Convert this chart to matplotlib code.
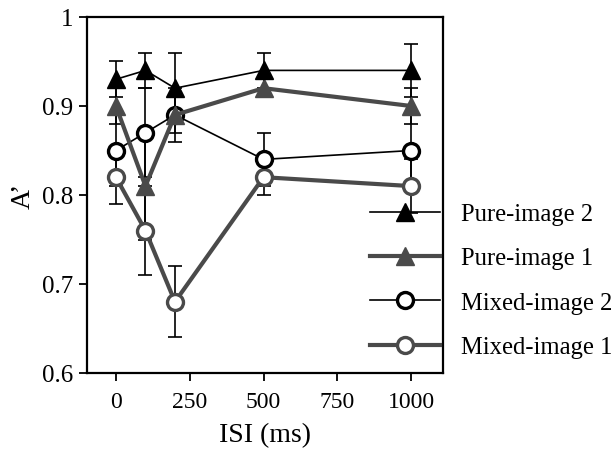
import matplotlib
matplotlib.use("Agg")
import matplotlib.pyplot as plt
from matplotlib.lines import Line2D

plt.rcParams['font.family'] = ['Liberation Serif', 'DejaVu Serif']

isi = [0, 100, 200, 500, 1000]

pure2 = [0.93, 0.94, 0.92, 0.94, 0.94]
pure2_err = [0.02, 0.02, 0.04, 0.02, 0.03]
pure1 = [0.90, 0.81, 0.89, 0.92, 0.90]
pure1_err = [0.02, 0.06, 0.02, 0.01, 0.02]
mixed2 = [0.85, 0.87, 0.89, 0.84, 0.85]
mixed2_err = [0.04, 0.05, 0.03, 0.03, 0.04]
mixed1 = [0.82, 0.76, 0.68, 0.82, 0.81]
mixed1_err = [0.03, 0.05, 0.04, 0.02, 0.03]

labels = ["Pure-image 2", "Pure-image 1", "Mixed-image 2", "Mixed-image 1"]
xticks = [0, 250, 500, 750, 1000]
yticks = [0.6, 0.7, 0.8, 0.9, 1.0]
ytick_labels = ["0.6", "0.7", "0.8", "0.9", "1"]

gray = "#4a4a4a"
fig = plt.figure(figsize=(6.13, 4.52), dpi=100)
ax = fig.add_axes([87/613, 1-374/452, (443-87)/613, (374-18)/452])

thin = 1.2
thick = 3.0
series = [
    (pure2, pure2_err, dict(color='black', lw=thin, marker='^', ms=13, mfc='black', mec='black', mew=1)),
    (pure1, pure1_err, dict(color=gray, lw=thick, marker='^', ms=13, mfc=gray, mec=gray, mew=1)),
    (mixed2, mixed2_err, dict(color='black', lw=thin, marker='o', ms=11.5, mfc='white', mec='black', mew=2.4)),
    (mixed1, mixed1_err, dict(color=gray, lw=thick, marker='o', ms=11.5, mfc='white', mec=gray, mew=2.4)),
]

handles = []
for i, (vals, err, st) in enumerate(series):
    ax.errorbar(isi, vals, yerr=err, fmt='none', ecolor='black', elinewidth=1.2,
                capsize=5, capthick=1.2, zorder=2)
for i, (vals, err, st) in enumerate(series[::-1]):
    ax.plot(isi, vals, zorder=3 + i, **st)
for vals, err, st in series:
    handles.append(Line2D([], [], **st))

ax.set_xlim(-98, 1108)
ax.set_ylim(0.6, 1.0)
ax.set_xticks(xticks)
ax.set_yticks(yticks)
ax.set_yticklabels(ytick_labels)
ax.tick_params(direction='out', length=6, width=1.3)
ax.tick_params(axis='x', labelsize=17, pad=7)
ax.tick_params(axis='y', labelsize=18, pad=4)
for s in ax.spines.values():
    s.set_linewidth(1.6)
ax.set_xlabel("ISI (ms)", fontsize=20, labelpad=7)
ax.set_ylabel("A\u2019", fontsize=20)
ax.yaxis.set_label_coords(-0.145, 0.5)

fig.legend(handles, labels, loc='center left', bbox_to_anchor=(370/613, 1-(217+346)/2/452),
           frameon=False, fontsize=17.7, handlelength=2.85, handletextpad=0.85,
           borderpad=0, borderaxespad=0, labelspacing=0.9, markerscale=1.0)

fig.savefig("out.png", dpi=100)
